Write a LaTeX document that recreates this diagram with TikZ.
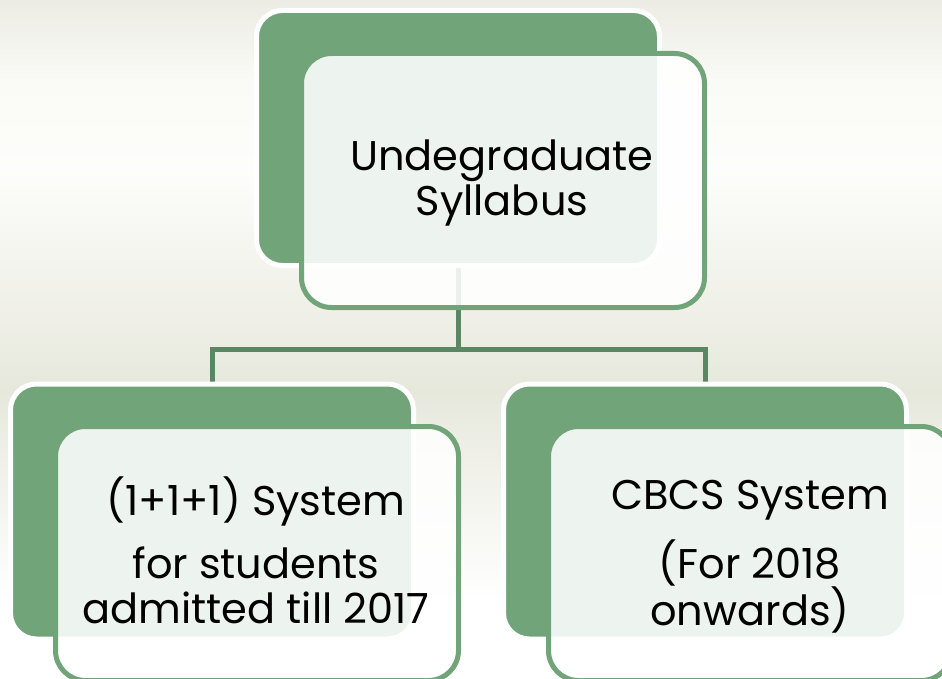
\documentclass[tikz,border=0pt]{standalone}
\usepackage{fontspec}
\setmainfont{Poppins}
\definecolor{bgA}{HTML}{ECECE4}
\definecolor{bgB}{HTML}{FAFAF6}
\definecolor{bgC}{HTML}{FDFDFB}
\definecolor{bgD}{HTML}{E7E8DC}
\definecolor{boxgreen}{HTML}{72A47A}
\definecolor{linegreen}{HTML}{5B8663}
\pgfdeclarelayer{bglayer}
\pgfsetlayers{bglayer,main}
\tikzset{
  backbox/.style={rectangle, rounded corners=26pt, fill=boxgreen, draw=white, line width=5pt,
    minimum width=403pt, minimum height=255pt, inner sep=0pt, outer sep=0pt},
  frontbox/.style={rectangle, rounded corners=30pt, fill=white, fill opacity=0.88, text opacity=1,
    draw=boxgreen, line width=5pt, draw opacity=1,
    minimum width=403pt, minimum height=254pt, inner sep=0pt, outer sep=0pt},
  boxtext/.style={font=\fontsize{41.5}{45}\selectfont, align=center, text=black, inner sep=0pt},
  conn/.style={draw=linegreen, line width=5pt}
}
\begin{document}
\begin{tikzpicture}[x=1pt,y=-1pt]
\useasboundingbox (0,0) rectangle (942,679);
\clip (0,0) rectangle (942,679);

% back boxes
\node[backbox] (topback) at (458,138) {};
\node[backbox] (leftback) at (212,511.5) {};
\node[backbox] (rightback) at (705,511.5) {};

\coordinate (junction) at (458,349);

\begin{pgfonlayer}{bglayer}
  \shade[top color=bgA, bottom color=bgB] (-1,-1) rectangle (943,80.5);
  \shade[top color=bgB, bottom color=bgC] (-1,80) rectangle (943,170.5);
  \shade[top color=bgC, bottom color=bgD] (-1,170) rectangle (943,390.5);
  \shade[top color=bgD, bottom color=white] (-1,390) rectangle (943,600.5);
  \fill[white] (-1,600) rectangle (943,680);
  \draw[conn] (topback.center) -- (junction);
  \draw[conn, line join=miter] (leftback.center) -- (leftback.center |- junction) -- (rightback.center |- junction) -- (rightback.center);
\end{pgfonlayer}

% front boxes
\node[frontbox] (topfront) at (503,180.5) {};
\node[boxtext] (toptext) at (502,183) {Undegraduate\\Syllabus};

\node[frontbox] (leftfront) at (257,553.5) {};
\node[boxtext] (lefttext) at (256,550) {(1+1+1) System\\[18pt]for students\\admitted till 2017};

\node[frontbox] (rightfront) at (750,553.5) {};
\node[boxtext] (righttext) at (750,557) {CBCS System\\[18pt](For 2018\\onwards)};
\end{tikzpicture}
\end{document}
